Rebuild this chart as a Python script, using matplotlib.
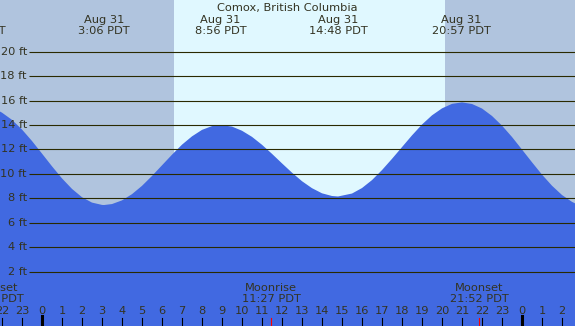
import matplotlib
matplotlib.use("Agg")
import matplotlib.pyplot as plt
import matplotlib.transforms as mtransforms

# hours since Aug 31 00:00 PDT, tide height in ft
hours = [-2.1, -2, -1.5, -1, -0.5, 0, 0.5, 1, 1.5, 2, 2.5, 3, 3.1, 3.5, 4, 4.5, 5, 5.5,
         6, 6.5, 7, 7.5, 8, 8.5, 8.93, 9.5, 10, 10.5, 11, 11.5, 12, 12.5, 13, 13.5,
         14, 14.5, 14.8, 15.5, 16, 16.5, 17, 17.5, 18, 18.5, 19, 19.5, 20, 20.5, 21,
         21.5, 22, 22.5, 23, 23.5, 24, 24.5, 25, 25.5, 26, 26.5, 26.7]
heights = [15.10, 15.01, 14.42, 13.63, 12.69, 11.66, 10.62, 9.63, 8.77, 8.09, 7.65,
           7.46, 7.45, 7.53, 7.83, 8.34, 9.02, 9.83, 10.70, 11.57, 12.39, 13.07, 13.60,
           13.91, 14.0, 13.87, 13.53, 13.03, 12.38, 11.64, 10.86, 10.10, 9.40, 8.83,
           8.41, 8.19, 8.15, 8.39, 8.84, 9.49, 10.31, 11.23, 12.19, 13.15, 14.04, 14.79,
           15.36, 15.73, 15.85, 15.72, 15.35, 14.74, 13.95, 13.02, 11.99, 10.95, 9.94,
           9.03, 8.27, 7.71, 7.55]

# high / low tide labels
tide_times = [-3.3, 3.1, 8.93, 14.8, 20.95]
tide_labels = ["Aug 30\n20:42 PDT", "Aug 31\n3:06 PDT", "Aug 31\n8:56 PDT",
               "Aug 31\n14:48 PDT", "Aug 31\n20:57 PDT"]

sunrise = 6.6
sunset = 20.15

moon_times = [-2.4, 11.45, 21.87]
moon_labels = ["Moonset\n21:36 PDT", "Moonrise\n11:27 PDT", "Moonset\n21:52 PDT"]

grid_levels = [2, 4, 6, 8, 10, 12, 14, 16, 18, 20]
hour_ticks = list(range(-2, 27))

txt = "#333322"
fs = 8.2
fig = plt.figure(figsize=(5.75, 3.26), dpi=100)
ax = fig.add_axes([0, 0, 1, 1])
ax.set_xlim(-2.1, 26.65)
ax.set_ylim(-2.45, 24.23)
ax.axis("off")

# night / day background
ax.axvspan(-5, sunrise, color="#B0C4DE", zorder=0, lw=0)
ax.axvspan(sunrise, sunset, color="#E0F8FF", zorder=0, lw=0)
ax.axvspan(sunset, 30, color="#B0C4DE", zorder=0, lw=0)

# tide
ax.fill_between(hours, heights, -5, color="#4169E1", lw=0, zorder=1)

# grid lines + labels
ax.hlines(grid_levels, -0.65, 30, colors="#2a2a00", lw=0.8, zorder=2)
for g in grid_levels:
    ax.text(-0.75, g, f"{g} ft", ha="right", va="center", fontsize=fs, color=txt, zorder=3)

tr = mtransforms.blended_transform_factory(ax.transData, ax.transAxes)

ax.text(0.5, 0.9755, "Comox, British Columbia", transform=ax.transAxes,
        ha="center", va="center", fontsize=fs, color=txt)

for t, lab in zip(tide_times, tide_labels):
    l1, l2 = lab.split("\n")
    ax.text(t, 0.9387, l1, transform=tr, ha="center", va="center", fontsize=fs, color=txt)
    ax.text(t, 0.9034, l2, transform=tr, ha="center", va="center", fontsize=fs, color=txt)

for t, lab in zip(moon_times, moon_labels):
    l1, l2 = lab.split("\n")
    ax.text(t, 0.118, l1, transform=tr, ha="center", va="center", fontsize=fs, color=txt)
    ax.text(t, 0.0834, l2, transform=tr, ha="center", va="center", fontsize=fs, color=txt)

# hour ticks
for h in hour_ticks:
    ax.text(h, 0.0445, str(h % 24), transform=tr, ha="center", va="center",
            fontsize=fs, color=txt)
    if h % 24 == 0:
        ax.plot([h, h], [0, 0.0307], transform=tr, color="black", lw=2.2, zorder=4)
    else:
        ax.plot([h, h], [0, 0.0245], transform=tr, color="black", lw=0.8, zorder=4)

for t in moon_times[1:]:
    ax.plot([t, t], [0, 0.0245], transform=tr, color="red", lw=0.8, zorder=5)

fig.savefig("out.png", dpi=100)
